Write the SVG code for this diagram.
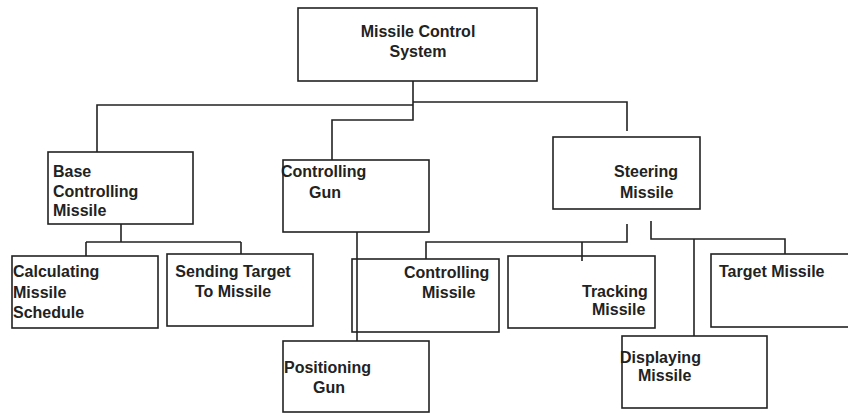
<svg xmlns="http://www.w3.org/2000/svg" width="848" height="414" viewBox="0 0 848 414">
<style>
.box{fill:#fff;stroke:#222;stroke-width:1.6}
.t{font-family:"Liberation Sans",Arial,sans-serif;font-size:16px;font-weight:bold;fill:#222}
.c{fill:none;stroke:#222;stroke-width:1.6}
</style>
<rect width="848" height="414" fill="#fff"/>
<g id="missile-control-system"><rect class="box" x="298" y="8" width="239" height="73"/><text class="t" x="418" y="37" text-anchor="middle">Missile Control</text><text class="t" x="418" y="57" text-anchor="middle">System</text></g>
<g id="base-controlling-missile"><rect class="box" x="48" y="152" width="145" height="72"/><text class="t" x="53" y="177">Base</text><text class="t" x="53" y="197">Controlling</text><text class="t" x="53" y="216">Missile</text></g>
<g id="calculating-missile-schedule"><rect class="box" x="12" y="256" width="146" height="72"/><text class="t" x="13" y="277">Calculating</text><text class="t" x="13" y="298">Missile</text><text class="t" x="13" y="318">Schedule</text></g>
<g id="sending-target"><rect class="box" x="167" y="254" width="146" height="72"/><text class="t" x="233" y="277" text-anchor="middle">Sending Target</text><text class="t" x="233" y="297" text-anchor="middle">To Missile</text></g>
<g id="controlling-gun"><rect class="box" x="283" y="160" width="146" height="72"/><text class="t" x="281" y="177">Controlling</text><text class="t" x="309" y="198">Gun</text></g>
<g id="controlling-missile"><rect class="box" x="352" y="259" width="147" height="73"/><text class="t" x="404" y="278">Controlling</text><text class="t" x="422" y="298">Missile</text></g>
<g id="positioning-gun"><rect class="box" x="283" y="341" width="146" height="71"/><text class="t" x="284" y="373">Positioning</text><text class="t" x="313" y="393">Gun</text></g>
<g id="steering-missile"><rect class="box" x="553" y="137" width="147" height="72"/><text class="t" x="614" y="177">Steering</text><text class="t" x="620" y="198">Missile</text></g>
<g id="tracking-missile"><rect class="box" x="508" y="256" width="147" height="72"/><text class="t" x="582" y="297">Tracking</text><text class="t" x="592" y="315">Missile</text></g>
<g id="target-missile"><rect class="box" x="711" y="254" width="145" height="73"/><text class="t" x="719" y="277">Target Missile</text></g>
<g id="displaying-missile"><rect class="box" x="622" y="336" width="145" height="72"/><text class="t" x="620" y="363">Displaying</text><text class="t" x="638" y="381">Missile</text></g>
<g id="connectors" class="c">
<path d="M413,81 V120 H332 V160"/>
<path d="M413,105 H97 V152"/>
<path d="M413,102 H627 V131"/>
<path d="M121,224 V242 M86,242 H241 M86,242 V256 M241,242 V254"/>
<path d="M357,232 V341"/>
<path d="M627,224 V242 H426 V259 M582,242 V261"/>
<path d="M651,221 V239 H785 V254 M694,239 V336"/>
</g>
</svg>
